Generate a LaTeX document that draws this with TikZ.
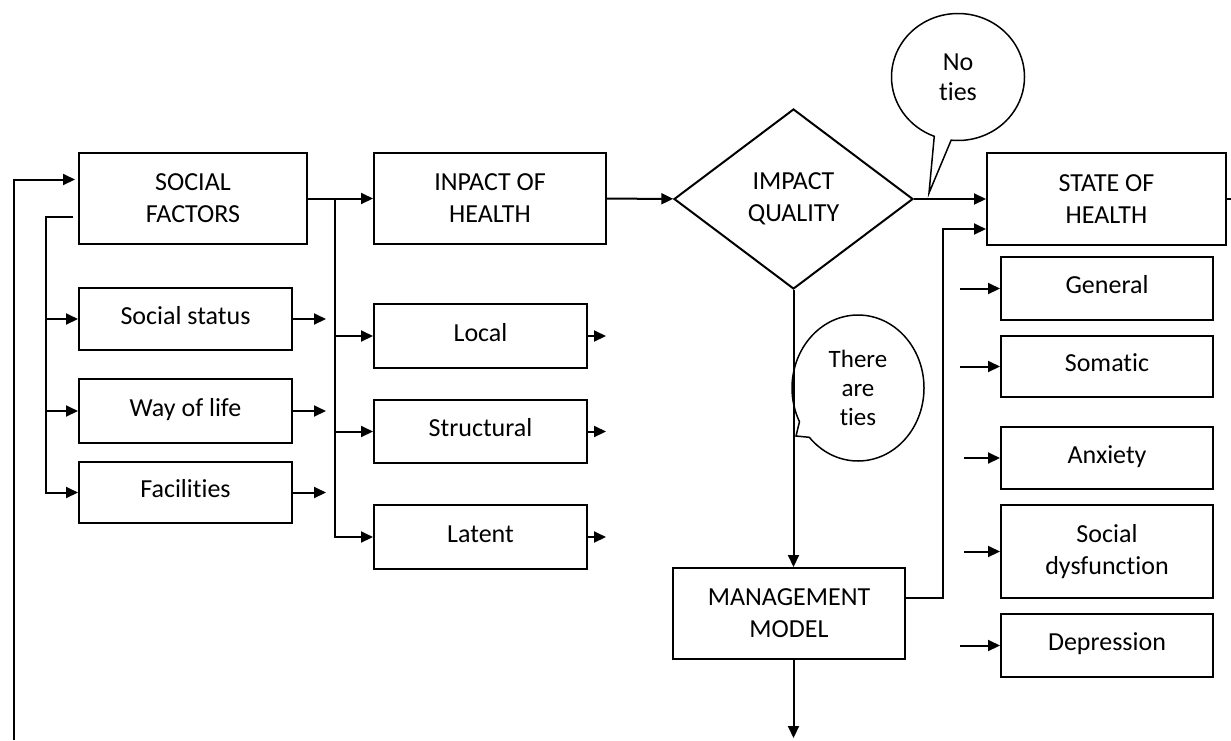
\documentclass[tikz,border=0pt]{standalone}
\usepackage{fontspec}
\setmainfont{Carlito}[Ligatures={NoCommon}]
\usetikzlibrary{arrows.meta,shapes.geometric,shapes.callouts}

\begin{document}
\begin{tikzpicture}[x=0.5pt,y=-0.5pt,
 box/.style={draw=black,align=center,inner sep=2pt,font=\fontsize{13}{16}\selectfont},
 item/.style={box,minimum width=106.5pt,minimum height=31.5pt,text height=9pt,text depth=4pt},
 bubble/.style={ellipse callout,draw=black,line width=.75pt,align=center,inner sep=0pt,font=\fontsize{13}{15}\selectfont},
 >={Triangle[length=6pt,width=5.5pt]},every path/.style={line width=1pt}]
\useasboundingbox (0,0) rectangle (1231,740);
% main row
\node[box,minimum width=114pt,minimum height=45.5pt] (social) at (193,198.5) {SOCIAL\\FACTORS};
\node[box,minimum width=116pt,minimum height=45.5pt] (inpact) at (490,198.5) {INPACT OF\\HEALTH};
\node[box,diamond,minimum width=119.5pt,minimum height=90pt,inner sep=0pt] (quality) at (793.5,199) {IMPACT\\QUALITY};
\node[box,minimum width=119.5pt,minimum height=46pt] (state) at (1106.5,199) {STATE OF\\HEALTH};
\node[box,minimum width=116pt,minimum height=45.5pt] (management) at (789,613.5) {MANAGEMENT\\MODEL};
% factor items
\node[item,minimum height=31pt] (status) at (185.5,319) {Social status};
\node[item,minimum height=32pt] (way) at (185.5,411) {Way of life};
\node[item,minimum height=30.5pt] (facilities) at (185.5,492.5) {Facilities};
\node[item,minimum height=32pt] (local) at (480.5,336) {Local};
\node[item] (structural) at (480.5,431.5) {Structural};
\node[item,minimum height=32pt] (latent) at (480.5,537) {Latent};
% health items
\node[item,minimum width=106pt] (general) at (1107,288.5) {General};
\node[item,minimum width=106pt,minimum height=30.5pt] (somatic) at (1107,366.5) {Somatic};
\node[item,minimum width=106pt,minimum height=31pt] (anxiety) at (1107,458) {Anxiety};
\node[box,minimum width=106pt,minimum height=46.5pt] (dysfunction) at (1107,551.5) {Social\\dysfunction};
\node[item,minimum width=106pt] (depression) at (1107,645.5) {Depression};
% callouts
\node[bubble,minimum width=66.5pt,minimum height=63.5pt,callout absolute pointer={(929,193)}] (noties) at (958,77) {No\\ties};
\node[bubble,minimum width=66pt,minimum height=73pt,callout absolute pointer={(796,436)},font=\fontsize{12.5}{14.5}\selectfont] (ties) at (858,388) {There\\are\\ties};
% feedback loop
\coordinate (loopstart) at (14,740);
\draw[->] (loopstart) |- ([xshift=-1.5pt,yshift=9.5pt]social.west);
% social factors
\coordinate (busL) at (46,217);
\draw[->] ([xshift=-2.5pt,yshift=-9.25pt]social.west) -- (busL) -- (busL |- facilities.west) -- (facilities.west);
\foreach \n in {status,way} \draw[->] (busL |- \n.west) -- (\n.west);
\foreach \n in {status,way,facilities} \draw[->] (\n.east) -- ([xshift=16.5pt]\n.east);
% impact of health
\draw[->] (social) -- (inpact);
\coordinate (busM) at (335,198.5);
\draw[->] (busM) |- (latent.west);
\foreach \n in {local,structural} \draw[->] (busM |- \n.west) -- (\n.west);
\foreach \n in {local,structural,latent} \draw[->] (\n.east) -- ([xshift=9pt]\n.east);
% decision
\draw[->] (inpact) -- (quality);
\draw[->] (quality) -- (state);
\draw[->] (quality.south) -- (quality.south |- management.north);
\coordinate (exit) at (793.5,738);
\draw[->] (quality.south |- management.south) -- (exit);
\draw[->] ([yshift=7.75pt]management.east) -| ([xshift=-21.5pt,yshift=-15pt]state.west) -- ([yshift=-15pt]state.west);
\coordinate (edge) at (1231,199);
\draw (state.east) -- (edge);
% state of health
\foreach \n/\l in {general/20pt,somatic/20pt,anxiety/18pt,dysfunction/18pt,depression/20pt}
  \draw[->] ([xshift=-\l]\n.west) -- (\n.west);
\end{tikzpicture}
\end{document}
